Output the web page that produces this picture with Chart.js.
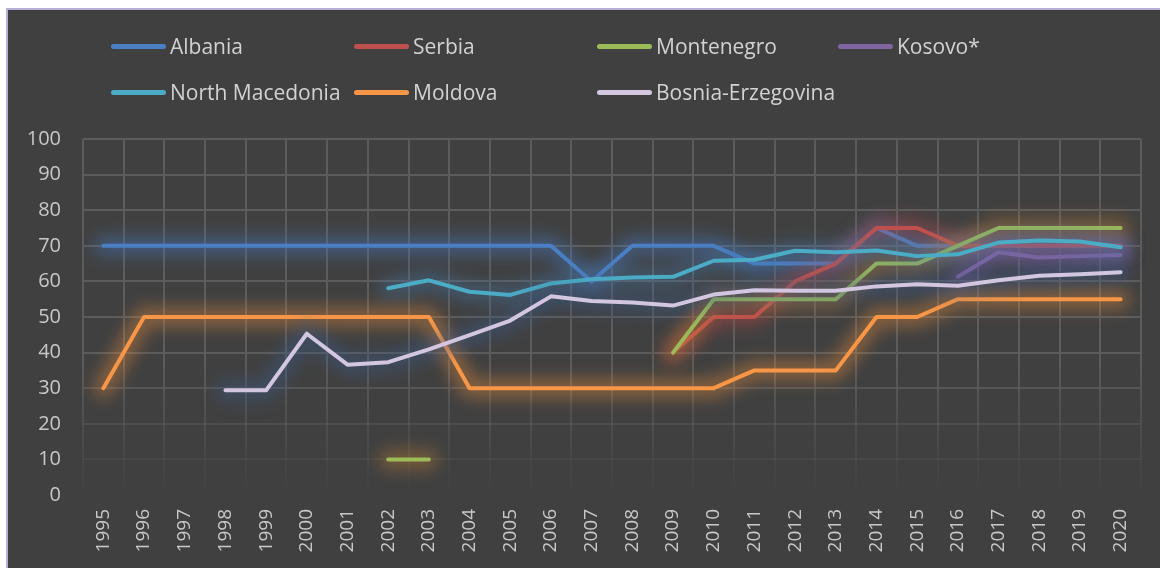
<!DOCTYPE html>
<html>
<head>
<meta charset="utf-8">
<script src="https://cdn.jsdelivr.net/npm/chart.js@4.4.1/dist/chart.umd.min.js"></script>
<style>
  html, body { margin: 0; padding: 0; background: #ffffff; }
  #wrap { position: relative; width: 1160px; height: 568px; overflow: hidden; }
  #chart { position: absolute; left: 0; top: 0; }
  #legend { position: absolute; left: 0; top: 0; width: 1160px; height: 120px; pointer-events: none;
            font-family: "Open Sans", "Noto Sans", sans-serif; font-size: 21px; color: #d2d2d2; }
  .item { position: absolute; height: 30px; line-height: 30px; white-space: nowrap; }
  .swatch { position: absolute; left: 0; top: 13px; width: 55px; height: 5px; border-radius: 3px; }
  .label { position: absolute; left: 59px; top: 0; }
</style>
</head>
<body>
<div id="wrap">
  <canvas id="chart" width="1160" height="568"></canvas>
  <div id="legend"></div>
</div>
<script>
const years = ["1995","1996","1997","1998","1999","2000","2001","2002","2003","2004","2005","2006","2007","2008","2009","2010","2011","2012","2013","2014","2015","2016","2017","2018","2019","2020"];
const yTicks = [0,10,20,30,40,50,60,70,80,90,100];

const albania        = [70,70,70,70,70,70,70,70,70,70,70,70,60,70,70,70,65,65,65,75,70,70,70,70,70,70];
const serbia         = [null,null,null,null,null,null,null,null,null,null,null,null,null,null,40,50,50,60,65,75,75,70,70,70,70,70];
const montenegro     = [null,null,null,null,null,null,null,10,10,null,null,null,null,null,40,55,55,55,55,65,65,70,75,75,75,75];
const kosovo         = [null,null,null,null,null,null,null,null,null,null,null,null,null,null,null,null,null,null,null,null,null,61.3,68.2,66.7,67.1,67.4];
const northMacedonia = [null,null,null,null,null,null,null,58.1,60.3,57.1,56.2,59.4,60.6,61.1,61.3,65.8,66.1,68.6,68.2,68.7,67.1,67.6,70.9,71.5,71.2,69.6];
const moldova        = [30,50,50,50,50,50,50,50,50,30,30,30,30,30,30,30,35,35,35,50,50,55,55,55,55,55];
const bosnia         = [null,null,null,29.4,29.4,45.3,36.6,37.3,40.9,44.9,49,55.8,54.5,54.1,53.2,56.3,57.5,57.4,57.4,58.6,59.2,58.8,60.3,61.6,62,62.6];

const seriesNames  = ["Albania","Serbia","Montenegro","Kosovo*","North Macedonia","Moldova","Bosnia-Erzegovina"];
const seriesData   = [albania, serbia, montenegro, kosovo, northMacedonia, moldova, bosnia];
const seriesColors = ["#4a7fc4","#c0504d","#9bbb59","#8064a2","#4bacc6","#f79646","#d2c6e0"];
const glowColors   = ["rgba(70,120,190,0.45)","rgba(190,70,70,0.40)","rgba(200,130,50,0.40)","rgba(120,90,170,0.45)",
                      "rgba(70,120,170,0.40)","rgba(230,140,60,0.42)","rgba(60,90,140,0.45)"];

const datasets = seriesNames.map((name, i) => ({
  label: name,
  data: seriesData[i],
  order: seriesNames.length - i,
  borderColor: seriesColors[i],
  backgroundColor: seriesColors[i],
  glowColor: glowColors[i],
  borderWidth: 4,
  pointRadius: 0,
  pointHoverRadius: 0,
  tension: 0,
  spanGaps: false,
  borderCapStyle: 'round',
  borderJoinStyle: 'round',
  fill: false
}));

// HTML legend
const legendPos = [[111,31],[354,31],[597,31],[838,31],[111,77],[354,77],[597,77]];
const legendEl = document.getElementById('legend');
seriesNames.forEach((name, i) => {
  const it = document.createElement('div');
  it.className = 'item';
  it.style.left = legendPos[i][0] + 'px';
  it.style.top = legendPos[i][1] + 'px';
  const sw = document.createElement('div');
  sw.className = 'swatch';
  sw.style.background = seriesColors[i];
  const lb = document.createElement('span');
  lb.className = 'label';
  lb.textContent = name;
  it.appendChild(sw); it.appendChild(lb);
  legendEl.appendChild(it);
});

const bgPlugin = {
  id: 'bg',
  beforeDraw(chart) {
    const c = chart.ctx;
    c.save();
    c.fillStyle = '#b9aed6';
    c.fillRect(6, 8, chart.width - 6, chart.height - 8);
    c.fillStyle = '#404040';
    c.fillRect(8, 10, chart.width - 8, chart.height - 10);
    c.restore();
  }
};

const glowPlugin = {
  id: 'glow',
  beforeDatasetDraw(chart, args) {
    const ds = chart.data.datasets[args.index];
    const meta = chart.getDatasetMeta(args.index);
    const c = chart.ctx;
    c.save();
    c.filter = 'blur(8px)';
    c.strokeStyle = ds.glowColor;
    c.lineWidth = 20;
    c.lineCap = 'round';
    c.lineJoin = 'round';
    c.beginPath();
    let open = false;
    meta.data.forEach((pt, j) => {
      const v = ds.data[j];
      if (v === null || v === undefined) { open = false; return; }
      if (!open) { c.moveTo(pt.x, pt.y); open = true; }
      else c.lineTo(pt.x, pt.y);
    });
    c.stroke();
    c.restore();
  }
};

function gridColor(ctx) {
  const chart = ctx.chart;
  const a = chart.chartArea;
  if (!a) return '#595959';
  const g = chart.ctx.createLinearGradient(0, a.top, 0, a.bottom);
  g.addColorStop(0, 'rgba(92,92,92,1)');
  g.addColorStop(0.62, 'rgba(92,92,92,1)');
  g.addColorStop(0.82, 'rgba(92,92,92,0.45)');
  g.addColorStop(1, 'rgba(92,92,92,0)');
  return g;
}

new Chart(document.getElementById('chart'), {
  type: 'line',
  data: { labels: years, datasets },
  plugins: [bgPlugin, glowPlugin],
  options: {
    responsive: false,
    animation: false,
    events: [],
    layout: { padding: { left: 0, top: 139, right: 19, bottom: 0 } },
    plugins: { legend: { display: false }, tooltip: { enabled: false } },
    scales: {
      x: {
        offset: true,
        grid: { offset: true, color: gridColor, lineWidth: 2, drawTicks: false },
        border: { display: false },
        ticks: {
          minRotation: 90, maxRotation: 90, autoSkip: false, padding: 14,
          color: '#c8c8c8', font: { family: '"Open Sans", "Noto Sans", sans-serif', size: 19 }
        },
        afterFit(scale) { scale.height = 73; }
      },
      y: {
        min: 0, max: 100,
        afterBuildTicks(scale) { scale.ticks = yTicks.map(v => ({ value: v })); },
        grid: { color: gridColor, lineWidth: 2, drawTicks: false },
        border: { display: false },
        ticks: {
          padding: 22,
          color: '#c8c8c8', font: { family: '"Open Sans", "Noto Sans", sans-serif', size: 20 }
        },
        afterFit(scale) { scale.width = 83; }
      }
    }
  }
});
</script>
</body>
</html>
